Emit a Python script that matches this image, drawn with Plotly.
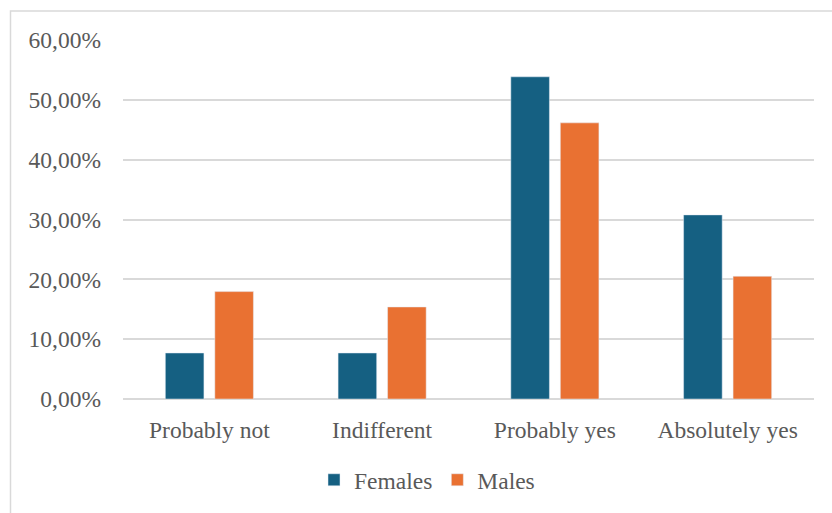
import plotly.graph_objects as go

categories = ["Probably not", "Indifferent", "Probably yes", "Absolutely yes"]
females = [7.69, 7.69, 53.85, 30.77]
males = [17.95, 15.38, 46.15, 20.51]
y_ticks = [0, 10, 20, 30, 40, 50, 60]
y_tick_labels = ["0,00%", "10,00%", "20,00%", "30,00%", "40,00%", "50,00%", "60,00%"]

W, H = 832, 513
L, R, T, B = 123, 18, 40, 113
pw, ph = W - L - R, H - T - B

font = dict(family="Liberation Serif", size=23.5, color="#595959")

fig = go.Figure()
fig.add_trace(go.Bar(name="Females", x=categories, y=females, marker=dict(color="#156082")))
fig.add_trace(go.Bar(name="Males", x=categories, y=males, marker=dict(color="#E97132")))

# outer chart frame
fig.add_shape(type="rect", xref="paper", yref="paper",
              x0=(10.5 - L) / pw, x1=(W + 20 - L) / pw,
              y0=(T + ph - (H + 20)) / ph, y1=(T + ph - 11) / ph,
              line=dict(color="#d9d9d9", width=1.5), fillcolor="rgba(0,0,0,0)", layer="below")

fig.update_layout(
    width=W, height=H,
    margin=dict(l=L, r=R, t=T, b=B),
    paper_bgcolor="white", plot_bgcolor="white",
    font=font,
    barmode="group", bargap=0.427, bargroupgap=0.22,
    showlegend=True,
    legend=dict(orientation="h", x=(427 - L) / pw, xanchor="center",
                y=(T + ph - 480) / ph, yanchor="middle",
                font=font, itemwidth=30, traceorder="normal"),
    xaxis=dict(showgrid=False, showline=False, ticks="", tickfont=font,
               ticklabelstandoff=14),
    yaxis=dict(range=[0, 60], tickvals=y_ticks, ticktext=y_tick_labels,
               showgrid=True, gridcolor="#d9d9d9", gridwidth=1.5,
               zeroline=True, zerolinecolor="#d9d9d9", zerolinewidth=1.5,
               showline=False, ticks="", tickfont=font, ticklabelstandoff=21),
)

fig.write_html("out.html")
